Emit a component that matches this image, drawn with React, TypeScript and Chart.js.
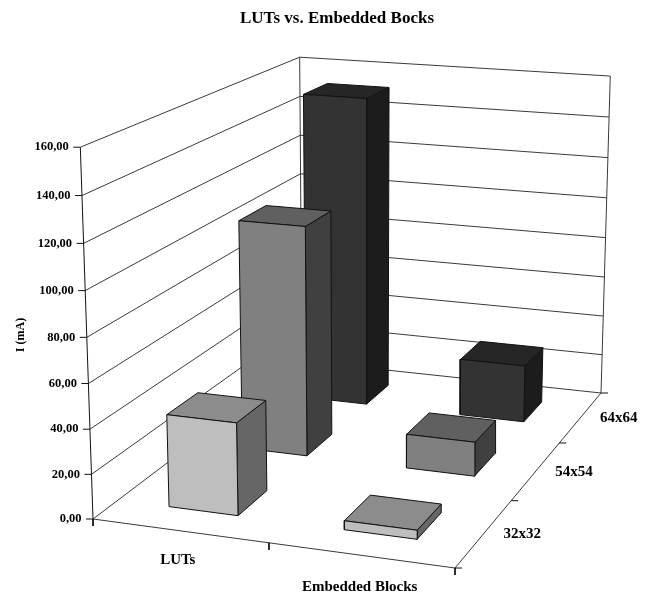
import React, { useEffect, useRef } from "react";
import { Chart, registerables } from "chart.js";

Chart.register(...registerables);

const title = "LUTs vs. Embedded Bocks";
const categories = ["LUTs", "Embedded Blocks"];
const seriesNames = ["32x32", "54x54", "64x64"];
const values32 = [41.5, 4];
const values54 = [108, 16];
const values64 = [152, 28];
const yTicks = [0, 20, 40, 60, 80, 100, 120, 140, 160];
const yTickLabels = ["0,00", "20,00", "40,00", "60,00", "80,00", "100,00", "120,00", "140,00", "160,00"];
const yTitle = "I (mA)";

const faceColors32 = { front: "#bebebe", top: "#8c8c8c", side: "#666666" };
const faceColors54 = { front: "#808080", top: "#606060", side: "#404040" };
const faceColors64 = { front: "#333333", top: "#262626", side: "#1c1c1c" };

const W = 651;
const H = 593;
const LEFT_PAD = 23;
const TITLE_BOX = 30;
const Y_MAX = 160;
const GAP_X = 0.3;
const GAP_Z = 0.3;
const LINE = "#3a3a3a";
const EDGE = "#111111";
const FONT = "'Liberation Serif', serif";

type P = { x: number; y: number };

// camera calibration: wall / floor corners of the 3D box in canvas space
const floorFL = [93, 519], floorFR = [455, 568], floorBR = [601, 393], floorBL = [302, 361];
const topFL = [79, 145], topBL = [301, 59], topBR = [610, 76];

function makeProjection() {
  const [x0, y0] = floorFL, [x1, y1] = floorFR, [x2, y2] = floorBR, [x3, y3] = floorBL;
  const dx1 = x1 - x2, dx2 = x3 - x2, sx = x0 - x1 + x2 - x3;
  const dy1 = y1 - y2, dy2 = y3 - y2, sy = y0 - y1 + y2 - y3;
  const den = dx1 * dy2 - dx2 * dy1;
  const g = (sx * dy2 - dx2 * sy) / den;
  const h = (dx1 * sy - sx * dy1) / den;
  const a = x1 - x0 + g * x1, b = x3 - x0 + h * x3, c = x0;
  const d = y1 - y0 + g * y1, e = y3 - y0 + h * y3, f = y0;
  const floor = (u: number, w: number) => [a * u + b * w + c, d * u + e * w + f, g * u + h * w + 1];
  // least squares for the vertical column (A, B, C)
  const rows: number[][] = [];
  const rhs: number[] = [];
  const tops: [number, number, number[]][] = [[0, 0, topFL], [0, 1, topBL], [1, 1, topBR]];
  tops.forEach(([u, w, t]) => {
    const [fx, fy, fw] = floor(u, w);
    rows.push([1, 0, -t[0]]); rhs.push(t[0] * fw - fx);
    rows.push([0, 1, -t[1]]); rhs.push(t[1] * fw - fy);
  });
  const n: number[][] = [0, 1, 2].map((i) => [0, 1, 2].map((j) => rows.reduce((s, r) => s + r[i] * r[j], 0)));
  const m: number[] = [0, 1, 2].map((i) => rows.reduce((s, r, k) => s + r[i] * rhs[k], 0));
  for (let i = 0; i < 3; i++) {
    for (let k = i + 1; k < 3; k++) {
      const q = n[k][i] / n[i][i];
      for (let j = i; j < 3; j++) n[k][j] -= q * n[i][j];
      m[k] -= q * m[i];
    }
  }
  const col = [0, 0, 0];
  for (let i = 2; i >= 0; i--) {
    let s = m[i];
    for (let j = i + 1; j < 3; j++) s -= n[i][j] * col[j];
    col[i] = s / n[i][i];
  }
  return (u: number, value: number, w: number): P => {
    const t = value / Y_MAX;
    const [fx, fy, fw] = floor(u, w);
    const ww = fw + col[2] * t;
    return { x: (fx + col[0] * t) / ww, y: (fy + col[1] * t) / ww };
  };
}

const project = makeProjection();

function poly(points: P[], stroke: string, width: number, fill?: string) {
  return {
    type: "line" as const,
    data: fill ? [...points, points[0]] : points,
    borderColor: stroke,
    borderWidth: width,
    backgroundColor: fill ?? "transparent",
    fill: fill ? "shape" : false,
    pointRadius: 0,
    tension: 0,
    clip: false,
  };
}

function buildDatasets() {
  const list: any[] = [];
  // walls and gridlines
  yTicks.forEach((v) => {
    list.push(poly([project(0, v, 0), project(0, v, 1), project(1, v, 1)], LINE, 1));
    const p = project(0, v, 0);
    list.push(poly([{ x: p.x - 7, y: p.y }, p], EDGE, 1));
  });
  list.push(poly([project(0, 0, 0), project(0, Y_MAX, 0)], EDGE, 1));
  list.push(poly([project(0, 0, 1), project(0, Y_MAX, 1)], LINE, 1));
  list.push(poly([project(1, 0, 1), project(1, Y_MAX, 1)], LINE, 1));
  list.push(poly([project(0, 0, 0), project(1, 0, 0)], LINE, 1));
  list.push(poly([project(1, 0, 0), project(1, 0, 1)], LINE, 1));
  // axis ticks
  categories.concat("").forEach((_, i) => {
    const p = project(i / categories.length, 0, 0);
    list.push(poly([p, { x: p.x, y: p.y + 7 }], EDGE, 1));
  });
  seriesNames.concat("").forEach((_, i) => {
    const p = project(1, 0, i / seriesNames.length);
    list.push(poly([p, { x: p.x + 7, y: p.y }], EDGE, 1));
  });
  // bars, painter's order: back row first
  const rows = [
    { values: values64, colors: faceColors64, idx: 2 },
    { values: values54, colors: faceColors54, idx: 1 },
    { values: values32, colors: faceColors32, idx: 0 },
  ];
  rows.forEach(({ values, colors, idx }) => {
    values.forEach((v, j) => {
      const u0 = (j + GAP_X) / categories.length;
      const u1 = (j + 1 - GAP_X) / categories.length;
      const w0 = (idx + GAP_Z) / seriesNames.length;
      const w1 = (idx + 1 - GAP_Z) / seriesNames.length;
      list.push(poly([project(u1, 0, w0), project(u1, 0, w1), project(u1, v, w1), project(u1, v, w0)], EDGE, 1, colors.side));
      list.push(poly([project(u0, v, w0), project(u1, v, w0), project(u1, v, w1), project(u0, v, w1)], EDGE, 1, colors.top));
      list.push(poly([project(u0, 0, w0), project(u1, 0, w0), project(u1, v, w0), project(u0, v, w0)], EDGE, 1, colors.front));
    });
  });
  const total = list.length;
  list.forEach((d, i) => { d.order = total - i; });
  return list;
}

const textPlugin = {
  id: "axisText",
  afterDraw(chart: any) {
    const { ctx } = chart;
    ctx.save();
    ctx.fillStyle = "#000";
    ctx.textBaseline = "middle";
    ctx.font = `bold 12.5px ${FONT}`;
    ctx.textAlign = "right";
    yTicks.forEach((v, i) => {
      const p = project(0, v, 0);
      ctx.fillText(yTickLabels[i], p.x - 11.5, p.y);
    });
    ctx.font = `bold 15px ${FONT}`;
    ctx.textAlign = "center";
    const catPos = [{ u: 0.25, dx: -2, dy: 29 }, { u: 0.75, dx: -1, dy: 32 }];
    categories.forEach((c, i) => {
      const p = project(catPos[i].u, 0, 0);
      ctx.fillText(c, p.x + catPos[i].dx, p.y + catPos[i].dy);
    });
    seriesNames.forEach((s, i) => {
      const p = project(1, 0, (i + 0.5) / seriesNames.length);
      ctx.fillText(s, p.x + 38, p.y + 1);
    });
    ctx.translate(21, 335);
    ctx.rotate(-Math.PI / 2);
    ctx.font = `bold 12px ${FONT}`;
    ctx.fillText(yTitle, 0, 0);
    ctx.restore();
  },
};

export default function App() {
  const ref = useRef<HTMLCanvasElement>(null);
  useEffect(() => {
    document.body.style.margin = "0";
    const chart = new Chart(ref.current!, {
      type: "line",
      data: { datasets: buildDatasets() },
      options: {
        animation: false,
        responsive: false,
        layout: { padding: { left: LEFT_PAD } },
        scales: {
          x: { type: "linear", min: LEFT_PAD, max: W, display: false },
          y: { type: "linear", min: TITLE_BOX, max: H, reverse: true, display: false },
        },
        plugins: {
          legend: { display: false },
          tooltip: { enabled: false },
          title: {
            display: true,
            text: title,
            color: "#000",
            font: { family: FONT, size: 17, weight: "bold", lineHeight: "20px" },
            padding: { top: 9, bottom: 1 },
          },
        },
      },
      plugins: [textPlugin],
    } as any);
    return () => chart.destroy();
  }, []);
  return <canvas ref={ref} width={W} height={H} style={{ display: "block" }} />;
}
